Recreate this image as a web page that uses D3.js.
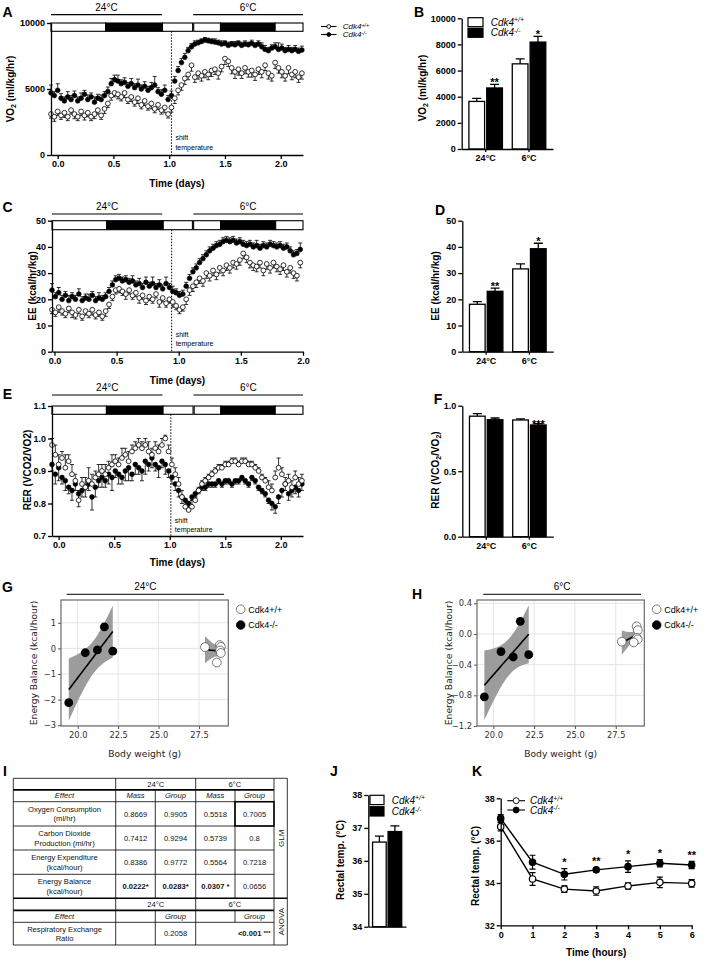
<!DOCTYPE html>
<html>
<head>
<meta charset="utf-8">
<title>Cdk4 metabolic phenotype</title>
<script src="https://cdn.jsdelivr.net/npm/d3@7/dist/d3.min.js"></script>
<style>
  body { margin: 0; background: #fff; }
  svg { display: block; font-family: "Liberation Sans", Arial, sans-serif; }
</style>
</head>
<body>
<svg id="fig" width="709" height="962"></svg>
<script>
// ---------------- data ----------------
const genotypes = ['wt', 'ko'];
const tempGroups = ['24°C', '6°C'];

// A: VO2 time course (ml/kg/hr), one value every 0.03 day
const vo2Start = -0.06, vo2Step = 0.03;
const vo2Wt = [3100, 2900, 3300, 3000, 3200, 2900, 3400, 3100, 2900, 3300,
  3000, 3200, 2900, 3100, 3400, 3000, 3500, 3900, 4500, 4700,
  4600, 4400, 4700, 4200, 4400, 4000, 4300, 3800, 4100, 3700,
  3900, 3500, 3800, 3400, 3600, 3100, 3600, 4300, 4900, 5300,
  5800, 6100, 6800, 5900, 6200, 6000, 6300, 6100, 6400, 6500,
  6200, 6700, 7300, 7100, 6600, 6300, 6500, 6200, 6600, 6300,
  6400, 6100, 6500, 6300, 6800, 6200, 6000, 7000, 6600, 6300,
  6000, 6600, 6100, 6300, 5900, 6200];
const vo2WtErr = [300, 350, 300, 300, 350, 300, 300, 350, 300, 300,
  350, 300, 300, 350, 300, 300, 350, 300, 350, 300,
  350, 300, 350, 300, 350, 300, 400, 300, 350, 300,
  400, 300, 350, 300, 400, 300, 350, 400, 350, 400,
  450, 400, 450, 400, 450, 400, 450, 400, 450, 400,
  450, 400, 450, 400, 450, 500, 450, 400, 450, 400,
  500, 450, 400, 450, 400, 450, 400, 450, 400, 450,
  400, 450, 400, 450, 400, 450];
const vo2Ko = [4700, 4500, 4900, 4300, 4100, 4400, 4200, 4500, 4100, 4300,
  4600, 4200, 4400, 4000, 4300, 4200, 4500, 4800, 5400, 5700,
  5600, 5400, 5500, 5200, 5400, 5100, 5300, 5000, 5200, 4900,
  5100, 5300, 4800, 4600, 4900, 4200, 4500, 5600, 6400, 7000,
  7400, 7900, 8200, 8400, 8500, 8600, 8700, 8650, 8600, 8550,
  8500, 8400, 8450, 8300, 8400, 8350, 8450, 8300, 8400, 8350,
  8450, 8300, 8400, 8200, 8000, 7900, 8100, 8200, 8000, 8100,
  7900, 8000, 7900, 8000, 7850, 7950];
const vo2KoErr = [600, 300, 500, 350, 300, 400, 300, 350, 300, 400,
  300, 350, 300, 400, 300, 350, 300, 350, 400, 350,
  450, 300, 350, 300, 400, 300, 450, 300, 350, 300,
  400, 650, 300, 350, 400, 300, 350, 350, 300, 300,
  300, 250, 250, 250, 200, 200, 200, 200, 200, 250,
  200, 250, 200, 250, 200, 250, 200, 250, 250, 200,
  250, 200, 250, 300, 300, 250, 250, 300, 500, 300,
  250, 300, 250, 300, 250, 300];

// C: energy expenditure time course (kcal/hr/kg), one value every 0.027 day
const eeStart = -0.02, eeStep = 0.027;
const eeWt = [16, 15, 17, 15.5, 14.5, 16.5, 15, 14, 16, 13.5,
  15.5, 14.5, 16, 14, 15, 13.5, 15.5, 18, 21, 23.5,
  24, 23, 22, 23.5, 21.5, 22.5, 20.5, 21.5, 19.5, 21,
  20, 22, 19, 20.5, 18.5, 20, 19, 17.5, 16, 17,
  20, 23.5, 25, 26.5, 28, 27, 30, 29, 31, 29.5,
  32, 31, 33, 32, 34, 33.5, 35, 37.5, 36, 34,
  33, 32.5, 34, 31, 33.5, 32, 34, 32.5, 31.5, 33,
  30.5, 32, 30, 29, 34];
const eeWtErr = [1.5, 1.5, 2, 1.5, 1.5, 1.5, 2, 1.5, 1.5, 1.5,
  1.5, 1.5, 2, 1.5, 1.5, 1.5, 2, 1.5, 1.5, 1.5,
  1.5, 1.5, 2, 1.5, 1.5, 1.5, 2, 1.5, 1.5, 1.5,
  1.5, 1.5, 2, 1.5, 1.5, 1.5, 2, 1.5, 1.5, 1.5,
  2, 2, 2, 2, 2, 2, 2, 2, 2, 2,
  2, 2, 2, 2, 2, 2, 2, 2, 2, 2,
  2, 2, 2, 2, 2, 2, 2, 2, 2, 2,
  2, 2, 2, 2, 2];
const eeKo = [23.5, 21, 22.5, 20, 21.5, 19.5, 21, 20, 22, 19.5,
  20.5, 20, 21.5, 19.5, 20.5, 20, 21, 23, 25.5, 27.5,
  28, 27, 27.5, 26.5, 27, 25.5, 26, 24.5, 26.5, 25,
  26, 24.5, 25.5, 24, 26, 24.5, 23, 22.5, 21.5, 22,
  25, 28, 30.5, 32, 34, 35.5, 37, 38.5, 39.5, 40.5,
  41, 42, 42.5, 42, 42.5, 41.5, 42, 41, 40.5, 41,
  40, 40.5, 39.5, 40.5, 40, 41, 40.5, 40, 40.5, 39.5,
  40, 38.5, 37, 37.5, 39];
const eeKoErr = [2.5, 1.5, 2, 1.5, 1.5, 2, 1.5, 1.5, 2, 1.5,
  1.5, 2, 1.5, 1.5, 2, 1.5, 1.5, 1.5, 1.5, 1.5,
  1.5, 1.5, 1.5, 1.5, 2, 1.5, 2, 1.5, 2, 1.5,
  2.5, 1.5, 2, 1.5, 2.5, 1.5, 2, 1.5, 1.5, 1.5,
  1.5, 1.5, 1.5, 1.5, 1.5, 1.5, 1.5, 1.5, 1.5, 1.5,
  1.5, 1.5, 1.5, 1.5, 1.5, 1.5, 1.5, 1.5, 1.5, 1.5,
  1.5, 2, 1.5, 1.5, 1.5, 1.5, 1.5, 1.5, 1.5, 1.5,
  1.5, 1.5, 1.5, 1.5, 2.5];

// E: RER time course, one value every 0.03 day
const rerStart = -0.06, rerStep = 0.03;
const rerWt = [0.98, 0.95, 0.92, 0.94, 0.91, 0.93, 0.89, 0.87, 0.81, 0.86,
  0.85, 0.87, 0.86, 0.88, 0.89, 0.90, 0.89, 0.91, 0.92, 0.93,
  0.92, 0.94, 0.95, 0.93, 0.96, 0.97, 0.98, 0.97, 0.98, 0.96,
  0.95, 0.97, 0.96, 0.98, 1.00, 0.96, 0.92, 0.89, 0.86, 0.82,
  0.79, 0.78, 0.79, 0.81, 0.84, 0.86, 0.87, 0.88, 0.89, 0.90,
  0.91, 0.91, 0.92, 0.92, 0.93, 0.93, 0.92, 0.93, 0.93, 0.92,
  0.92, 0.91, 0.90, 0.88, 0.87, 0.85, 0.84, 0.88, 0.91, 0.89,
  0.86, 0.87, 0.85, 0.88, 0.86, 0.87];
const rerWtErr = [0.02, 0.03, 0.03, 0.02, 0.04, 0.02, 0.03, 0.02, 0.03, 0.02,
  0.03, 0.04, 0.03, 0.02, 0.03, 0.02, 0.03, 0.02, 0.03, 0.02,
  0.02, 0.03, 0.02, 0.03, 0.02, 0.02, 0.02, 0.02, 0.02, 0.03,
  0.02, 0.02, 0.02, 0.02, 0.01, 0.02, 0.02, 0.02, 0.02, 0.02,
  0.02, 0.02, 0.02, 0.01, 0.01, 0.01, 0.01, 0.01, 0.01, 0.01,
  0.01, 0.01, 0.01, 0.01, 0.01, 0.01, 0.01, 0.01, 0.01, 0.01,
  0.01, 0.01, 0.01, 0.01, 0.01, 0.02, 0.02, 0.02, 0.03, 0.02,
  0.02, 0.02, 0.02, 0.02, 0.02, 0.02];
const rerKo = [0.92, 0.89, 0.91, 0.88, 0.87, 0.85, 0.84, 0.86, 0.83, 0.84,
  0.85, 0.86, 0.82, 0.85, 0.87, 0.88, 0.87, 0.89, 0.88, 0.90,
  0.89, 0.88, 0.90, 0.91, 0.89, 0.92, 0.91, 0.90, 0.93, 0.92,
  0.94, 0.92, 0.91, 0.93, 0.92, 0.90, 0.88, 0.86, 0.84, 0.82,
  0.81, 0.80, 0.82, 0.83, 0.84, 0.85, 0.85, 0.86, 0.86, 0.86,
  0.87, 0.86, 0.87, 0.87, 0.86, 0.87, 0.87, 0.88, 0.87, 0.86,
  0.88, 0.87, 0.85, 0.84, 0.83, 0.81, 0.80, 0.79, 0.82, 0.84,
  0.86, 0.83, 0.84, 0.85, 0.84, 0.86];
const rerKoErr = [0.02, 0.03, 0.04, 0.02, 0.03, 0.02, 0.03, 0.02, 0.04, 0.02,
  0.03, 0.02, 0.04, 0.03, 0.02, 0.03, 0.02, 0.03, 0.04, 0.02,
  0.03, 0.02, 0.03, 0.04, 0.02, 0.03, 0.02, 0.03, 0.04, 0.02,
  0.03, 0.02, 0.03, 0.02, 0.03, 0.02, 0.02, 0.02, 0.02, 0.02,
  0.02, 0.02, 0.01, 0.01, 0.01, 0.01, 0.01, 0.01, 0.01, 0.01,
  0.01, 0.01, 0.01, 0.01, 0.01, 0.01, 0.01, 0.01, 0.01, 0.01,
  0.01, 0.01, 0.01, 0.01, 0.01, 0.01, 0.02, 0.02, 0.02, 0.02,
  0.02, 0.02, 0.02, 0.02, 0.02, 0.02];

// light / dark cycle and temperature periods (days); third field 1 = dark
const lightDarkAE = [[-0.06, 0.43, 0], [0.43, 0.94, 1], [0.94, 1.21, 0], [1.22, 1.46, 0], [1.46, 1.95, 1], [1.95, 2.2, 0]];
const tempSpanAE = [[-0.06, 0.935], [1.215, 2.2]];
const lightDarkC = [[-0.02, 0.42, 0], [0.42, 0.875, 1], [0.875, 1.11, 0], [1.12, 1.337, 0], [1.337, 1.78, 1], [1.78, 2.0, 0]];
const tempSpanC = [[-0.02, 0.867], [1.117, 2.0]];

// B, D, F: averages per temperature
const vo2BarWt = [3640, 6515], vo2BarWtErr = [240, 385];
const vo2BarKo = [4670, 8180], vo2BarKoErr = [280, 435];
const vo2Stars = ['**', '*'];
const eeBarWt = [18.1, 31.6], eeBarWtErr = [1.0, 1.9];
const eeBarKo = [23.05, 39.3], eeBarKoErr = [1.25, 2.1];
const eeStars = ['**', '*'];
const rerBarWt = [0.92, 0.891], rerBarWtErr = [0.02, 0.009];
const rerBarKo = [0.893, 0.853], rerBarKoErr = [0.013, 0.01];
const rerStars = ['', '***'];

// G, H: energy balance vs body weight
const bwKo = [19.45, 20.47, 21.22, 21.65, 22.17];
const bwWt = [27.87, 28.78, 28.85, 28.8, 28.85, 28.6];
const ebKo24 = [-2.12, -0.17, -0.06, 0.84, -0.11];
const ebWt24 = [0.05, 0.13, 0.06, -0.08, -0.18, -0.55];
const ebKo6 = [-0.82, -0.23, -0.30, 0.165, -0.27];
const ebWt6 = [-0.10, 0.10, 0.05, -0.05, -0.07, -0.11];

// I: statistics table
const tblEffects = [['Oxygen Consumption', '(ml/hr)'], ['Carbon Dioxide', 'Production (ml/hr)'],
  ['Energy Expenditure', '(kcal/hour)'], ['Energy Balance', '(kcal/hour)']];
const tblPvals = [['0.8669', '0.9905', '0.5518', '0.7005'], ['0.7412', '0.9294', '0.5739', '0.8'],
  ['0.8386', '0.9772', '0.5564', '0.7218'], ['0.0222*', '0.0283*', '0.0307 *', '0.0656']];
const tblBold = [[0, 0, 0, 0], [0, 0, 0, 0], [0, 0, 0, 0], [1, 1, 1, 0]];
const rerGroupP = ['0.2058', '<0.001'];

// J: rectal temperature at baseline
const rectalWt = [36.57], rectalWtErr = [0.18];
const rectalKo = [36.89], rectalKoErr = [0.17];

// K: cold exposure rectal temperature
const coldHours = [0, 1, 2, 3, 4, 5, 6];
const coldWt = [36.66, 34.19, 33.71, 33.62, 33.86, 34.03, 33.98];
const coldWtErr = [0.2, 0.3, 0.15, 0.2, 0.15, 0.25, 0.18];
const coldKo = [37.05, 34.98, 34.41, 34.62, 34.77, 34.93, 34.85];
const coldKoErr = [0.18, 0.33, 0.27, 0.1, 0.27, 0.17, 0.17];
const coldStars = ['', '', '*', '**', '*', '*', '**'];

// ---------------- helpers ----------------
const svg = d3.select('#fig');
const SANS = '"Liberation Sans", Arial, sans-serif';
const DV = '"DejaVu Sans", Verdana, sans-serif';

function letter(t, x, y) {
  svg.append('text').attr('x', x).attr('y', y).attr('text-anchor', 'middle')
    .attr('font-size', 14).attr('font-weight', 'bold').text(t);
}

function styleAxis(g, size) {
  g.select('.domain').attr('stroke', '#000').attr('stroke-width', 1.3);
  g.selectAll('.tick line').attr('stroke', '#000').attr('stroke-width', 1.3);
  g.selectAll('.tick text').attr('font-family', SANS).attr('font-size', size || 9)
    .attr('font-weight', 'bold').attr('fill', '#000');
}

// rotated axis title; parts = [text, dy, fontSize]
function rotLabel(cx, cy, parts, opt) {
  const t = svg.append('text')
    .attr('transform', `translate(${cx + 3.5},${cy}) rotate(-90)`)
    .attr('text-anchor', 'middle')
    .attr('font-size', opt.size).attr('font-weight', opt.weight || 'bold')
    .attr('font-family', opt.family || SANS).attr('fill', opt.fill || '#000');
  parts.forEach(p => {
    const s = t.append('tspan').text(p[0]);
    if (p[1]) s.attr('dy', p[1]);
    if (p[2]) s.attr('font-size', p[2]);
  });
}

function genoText(x, y, k, size) {
  const t = svg.append('text').attr('x', x).attr('y', y).attr('font-size', size).attr('font-style', 'italic');
  t.append('tspan').text('Cdk4');
  t.append('tspan').text(k === 'wt' ? '+/+' : '-/-').attr('dy', -size * 0.35).attr('font-size', size * 0.68);
}

function lineLegend(x1, x2, ys, r, textX, size) {
  genotypes.forEach((k, i) => {
    svg.append('line').attr('x1', x1).attr('x2', x2).attr('y1', ys[i]).attr('y2', ys[i])
      .attr('stroke', '#000').attr('stroke-width', 1.1);
    svg.append('circle').attr('cx', (x1 + x2) / 2).attr('cy', ys[i]).attr('r', r)
      .attr('fill', k === 'ko' ? '#000' : '#fff').attr('stroke', '#000').attr('stroke-width', 0.9);
    genoText(textX, ys[i] + size * 0.36, k, size);
  });
}

function boxLegend(x, ys, w, h, textX, size) {
  genotypes.forEach((k, i) => {
    svg.append('rect').attr('x', x).attr('y', ys[i]).attr('width', w).attr('height', h)
      .attr('fill', k === 'ko' ? '#000' : '#fff').attr('stroke', '#000').attr('stroke-width', 1.2);
    genoText(textX, ys[i] + h - 1, k, size);
  });
}

// ---------------- time-course panels (A, C, E) ----------------
function timePanel(o) {
  const x = d3.scaleLinear().domain(o.xDomain).range(o.xRange);
  const y = d3.scaleLinear().domain(o.yDomain).range(o.yRange);
  const g = svg.append('g');
  const top = o.yRange[1];

  g.selectAll('line.temp').data(o.temps).join('line').attr('class', 'temp')
    .attr('x1', d => x(d[0])).attr('x2', d => x(d[1]))
    .attr('y1', o.tempY).attr('y2', o.tempY).attr('stroke', '#000').attr('stroke-width', 1.2);
  g.selectAll('text.temp').data(o.temps).join('text').attr('class', 'temp')
    .attr('x', d => x((d[0] + d[1]) / 2)).attr('y', o.tempY - 4.2)
    .attr('text-anchor', 'middle').attr('font-size', 10).text((d, i) => tempGroups[i]);

  g.selectAll('rect.ld').data(o.ld).join('rect').attr('class', 'ld')
    .attr('x', d => x(d[0])).attr('width', d => x(d[1]) - x(d[0]))
    .attr('y', top).attr('height', o.barH)
    .attr('fill', d => d[2] ? '#000' : '#fff').attr('stroke', '#000').attr('stroke-width', 1.1);

  g.append('line').attr('x1', x(o.shift)).attr('x2', x(o.shift))
    .attr('y1', top + o.barH).attr('y2', o.yRange[0])
    .attr('stroke', '#000').attr('stroke-width', 1).attr('stroke-dasharray', '1.5,1.5');
  g.append('text').attr('font-size', 7).attr('y', o.shiftY)
    .selectAll('tspan').data(['shift', 'temperature']).join('tspan')
    .attr('x', x(o.shift) + 4).attr('dy', (d, i) => i ? 9.5 : 0).text(d => d);

  const pts = (vals, errs) => vals.map((v, i) => ({ t: o.t0 + i * o.step, v, e: errs[i] ?? 0 }));
  const wt = pts(o.wt, o.wtErr), ko = pts(o.ko, o.koErr);
  const errBars = (data, dir) => g.append('g').selectAll('path').data(data).join('path')
    .attr('d', d => {
      const X = x(d.t), y0 = y(d.v), y1 = y(d.v + dir * d.e);
      return `M${X},${y0}V${y1}M${X - 2},${y1}H${X + 2}`;
    })
    .attr('stroke', '#000').attr('stroke-width', 0.8).attr('fill', 'none');
  errBars(wt, o.wtDir);
  errBars(ko, o.koDir);
  g.append('g').selectAll('circle').data(ko).join('circle')
    .attr('cx', d => x(d.t)).attr('cy', d => y(d.v)).attr('r', 2.4)
    .attr('fill', '#000').attr('stroke', '#000').attr('stroke-width', 0.6);
  g.append('g').selectAll('circle').data(wt).join('circle')
    .attr('cx', d => x(d.t)).attr('cy', d => y(d.v)).attr('r', 2.4)
    .attr('fill', '#fff').attr('stroke', '#000').attr('stroke-width', 0.8);

  const ax = g.append('g').attr('transform', `translate(0,${o.yRange[0]})`)
    .call(d3.axisBottom(x).tickValues([0, 0.5, 1, 1.5, 2]).tickFormat(d3.format('.1f'))
      .tickSize(4).tickSizeOuter(0).tickPadding(2));
  styleAxis(ax);
  const ay = g.append('g').attr('transform', `translate(${o.xRange[0]},0)`)
    .call(d3.axisLeft(y).tickValues(o.yTicks).tickFormat(o.yFmt)
      .tickSize(4).tickSizeOuter(0).tickPadding(2));
  styleAxis(ay);

  svg.append('text').attr('x', (o.xRange[0] + o.xRange[1]) / 2).attr('y', o.xTitleY)
    .attr('text-anchor', 'middle').attr('font-size', 10).attr('font-weight', 'bold').text('Time (days)');
  rotLabel(o.yLabelX, o.yLabelY, o.yLabel, { size: 10 });
}

timePanel({
  xDomain: [-0.06, 2.2], xRange: [51, 303], yDomain: [0, 10000], yRange: [155, 23],
  yTicks: [0, 5000, 10000], yFmt: d3.format('d'),
  ld: lightDarkAE, temps: tempSpanAE, barH: 8.3, tempY: 14.7, shift: 1.02, shiftY: 140,
  t0: vo2Start, step: vo2Step, wt: vo2Wt, wtErr: vo2WtErr, ko: vo2Ko, koErr: vo2KoErr, wtDir: -1, koDir: 1,
  xTitleY: 187, yLabelX: 10, yLabelY: 89, yLabel: [['VO'], ['2', 2.5, 7], [' (ml/kg/hr)', -2.5]]
});
timePanel({
  xDomain: [-0.02, 2.0], xRange: [52, 303], yDomain: [0, 50], yRange: [351.7, 220.7],
  yTicks: [0, 10, 20, 30, 40, 50], yFmt: d3.format('d'),
  ld: lightDarkC, temps: tempSpanC, barH: 9, tempY: 214, shift: 0.943, shiftY: 336.5,
  t0: eeStart, step: eeStep, wt: eeWt, wtErr: eeWtErr, ko: eeKo, koErr: eeKoErr, wtDir: -1, koDir: 1,
  xTitleY: 383.5, yLabelX: 32, yLabelY: 286, yLabel: [['EE (kcal/hr/kg)']]
});
timePanel({
  xDomain: [-0.06, 2.2], xRange: [52, 303], yDomain: [0.7, 1.1], yRange: [536, 406],
  yTicks: [0.7, 0.8, 0.9, 1.0, 1.1], yFmt: d3.format('.1f'),
  ld: lightDarkAE, temps: tempSpanAE, barH: 8.3, tempY: 395, shift: 1.01, shiftY: 522.5,
  t0: rerStart, step: rerStep, wt: rerWt, wtErr: rerWtErr, ko: rerKo, koErr: rerKoErr, wtDir: 1, koDir: -1,
  xTitleY: 566, yLabelX: 27, yLabelY: 470, yLabel: [['RER (VCO2/VO2)']]
});
lineLegend(321, 336.5, [26.5, 34.5], 1.9, 342.7, 8);

// ---------------- bar panels (B, D, F, J) ----------------
function barPanel(o) {
  const x0 = d3.scaleBand().domain(o.groups).range(o.xRange).paddingInner(0.227).paddingOuter(o.outer);
  const x1 = d3.scaleBand().domain(genotypes).range([0, x0.bandwidth()]).paddingInner(0.12);
  const y = d3.scaleLinear().domain(o.yDomain).range(o.yRange);
  const rows = [];
  o.groups.forEach((gr, i) => genotypes.forEach(k => rows.push({
    gr, k, v: o.vals[k][i], e: o.errs[k][i], star: k === 'ko' && o.stars ? o.stars[i] : ''
  })));
  const cx = d => x0(d.gr) + x1(d.k) + x1.bandwidth() / 2;
  const g = svg.append('g');
  g.selectAll('rect').data(rows).join('rect')
    .attr('x', d => x0(d.gr) + x1(d.k)).attr('width', x1.bandwidth())
    .attr('y', d => y(d.v)).attr('height', d => y(o.yDomain[0]) - y(d.v))
    .attr('fill', d => d.k === 'ko' ? '#000' : '#fff').attr('stroke', '#000').attr('stroke-width', 1.3);
  g.selectAll('path.err').data(rows).join('path').attr('class', 'err')
    .attr('d', d => `M${cx(d)},${y(d.v)}V${y(d.v + d.e)}M${cx(d) - 4.5},${y(d.v + d.e)}H${cx(d) + 4.5}`)
    .attr('stroke', '#000').attr('stroke-width', 1.3).attr('fill', 'none');
  g.selectAll('text.star').data(rows.filter(d => d.star)).join('text').attr('class', 'star')
    .attr('x', cx).attr('y', d => y(d.v + d.e) + o.starDy)
    .attr('text-anchor', 'middle').attr('font-size', 11).attr('font-weight', 'bold').text(d => d.star);

  const ax = g.append('g').attr('transform', `translate(0,${o.yRange[0]})`)
    .call(d3.axisBottom(x0).tickSize(o.showX ? 3 : 0).tickSizeOuter(0).tickPadding(3)
      .tickFormat(d => o.showX ? d : ''));
  styleAxis(ax);
  const ay = g.append('g').attr('transform', `translate(${o.xRange[0]},0)`)
    .call(d3.axisLeft(y).tickValues(o.yTicks).tickFormat(o.yFmt).tickSize(4).tickSizeOuter(0).tickPadding(2));
  styleAxis(ay);
  rotLabel(o.yLabelX, o.yLabelY, o.yLabel, { size: 10 });
}

barPanel({
  groups: tempGroups, outer: 0.166, xRange: [461.7, 553], yDomain: [0, 10000], yRange: [149, 18.3],
  yTicks: [0, 2000, 4000, 6000, 8000, 10000], yFmt: d3.format('d'),
  vals: { wt: vo2BarWt, ko: vo2BarKo }, errs: { wt: vo2BarWtErr, ko: vo2BarKoErr }, stars: vo2Stars,
  starDy: 1.5, showX: true, yLabelX: 422, yLabelY: 88, yLabel: [['VO'], ['2', 2.5, 7], [' (ml/kg/hr)', -2.5]]
});
boxLegend(468, [17.7, 28.3], 15, 9, 490.7, 10);
barPanel({
  groups: tempGroups, outer: 0.166, xRange: [462.3, 553.3], yDomain: [0, 50], yRange: [351.7, 220.7],
  yTicks: [0, 10, 20, 30, 40, 50], yFmt: d3.format('d'),
  vals: { wt: eeBarWt, ko: eeBarKo }, errs: { wt: eeBarWtErr, ko: eeBarKoErr }, stars: eeStars,
  starDy: 1.5, showX: true, yLabelX: 435, yLabelY: 286, yLabel: [['EE (kcal/hr/kg)']]
});
barPanel({
  groups: tempGroups, outer: 0.166, xRange: [462.3, 553.3], yDomain: [0, 1], yRange: [536.7, 405.7],
  yTicks: [0, 0.5, 1.0], yFmt: d3.format('.1f'),
  vals: { wt: rerBarWt, ko: rerBarKo }, errs: { wt: rerBarWtErr, ko: rerBarKoErr }, stars: rerStars,
  starDy: 4, showX: true, yLabelX: 435, yLabelY: 470,
  yLabel: [['RER (VCO'], ['2', 2.5, 7], ['/VO', -2.5], ['2', 2.5, 7], [')', -2.5]]
});
barPanel({
  groups: ['base'], outer: 0.1, xRange: [368.3, 406], yDomain: [34, 38], yRange: [926.7, 795],
  yTicks: [34, 35, 36, 37, 38], yFmt: d3.format('d'),
  vals: { wt: rectalWt, ko: rectalKo }, errs: { wt: rectalWtErr, ko: rectalKoErr }, stars: null,
  starDy: 0, showX: false, yLabelX: 340, yLabelY: 860, yLabel: [['Rectal temp. (°C)']]
});
boxLegend(370, [795.3, 806.7], 14, 9.3, 391.7, 10);

// ---------------- scatter panels (G, H) ----------------
function fitBand(xs, ys) {
  const n = xs.length, mx = d3.mean(xs), my = d3.mean(ys);
  const sxx = d3.sum(xs, v => (v - mx) ** 2);
  const sxy = d3.sum(xs.map((v, i) => (v - mx) * (ys[i] - my)));
  const b = sxy / sxx, a = my - b * mx;
  const s = Math.sqrt(d3.sum(xs.map((v, i) => (ys[i] - a - b * v) ** 2)) / (n - 2));
  const [lo, hi] = d3.extent(xs);
  return d3.range(0, 41).map(j => {
    const xv = lo + (hi - lo) * j / 40, f = a + b * xv;
    const se = s * Math.sqrt(1 / n + (xv - mx) ** 2 / sxx);
    return { x: xv, f, lo: f - 1.96 * se, hi: f + 1.96 * se };
  });
}

function scatterPanel(o) {
  const x = d3.scaleLinear().domain(o.xDomain).range(o.xRange);
  const y = d3.scaleLinear().domain(o.yDomain).range(o.yRange);
  const [L, R] = o.xRange, [B, T] = o.yRange;
  const g = svg.append('g').attr('font-family', DV);

  g.selectAll('line.gx').data(o.xTicks).join('line').attr('class', 'gx')
    .attr('x1', d => x(d)).attr('x2', d => x(d)).attr('y1', T).attr('y2', B)
    .attr('stroke', '#e4e4e4').attr('stroke-width', 1);
  g.selectAll('line.gy').data(o.yTicks).join('line').attr('class', 'gy')
    .attr('x1', L).attr('x2', R).attr('y1', d => y(d)).attr('y2', d => y(d))
    .attr('stroke', '#e4e4e4').attr('stroke-width', 1);

  svg.append('clipPath').attr('id', 'clip' + o.id).append('rect')
    .attr('x', L).attr('y', T).attr('width', R - L).attr('height', B - T);
  const inner = g.append('g').attr('clip-path', `url(#clip${o.id})`);
  [[bwKo, o.ko], [bwWt, o.wt]].forEach(([xs, ys]) => {
    const fit = fitBand(xs, ys);
    inner.append('path').datum(fit)
      .attr('d', d3.area().x(d => x(d.x)).y0(d => y(d.lo)).y1(d => y(d.hi)))
      .attr('fill', '#9c9c9c');
    inner.append('path').datum(fit)
      .attr('d', d3.line().x(d => x(d.x)).y(d => y(d.f)))
      .attr('fill', 'none').attr('stroke', '#000').attr('stroke-width', 1.6);
  });
  inner.selectAll('circle.ko').data(bwKo).join('circle').attr('class', 'ko')
    .attr('cx', d => x(d)).attr('cy', (d, i) => y(o.ko[i])).attr('r', 4.4).attr('fill', '#000');
  inner.selectAll('circle.wt').data(bwWt).join('circle').attr('class', 'wt')
    .attr('cx', d => x(d)).attr('cy', (d, i) => y(o.wt[i])).attr('r', 4.4)
    .attr('fill', '#fff').attr('stroke', '#555').attr('stroke-width', 0.8);

  g.append('rect').attr('x', L).attr('y', T).attr('width', R - L).attr('height', B - T)
    .attr('fill', 'none').attr('stroke', '#6a6a6a').attr('stroke-width', 1.2);

  const ax = g.append('g').attr('transform', `translate(0,${B})`)
    .call(d3.axisBottom(x).tickValues(o.xTicks).tickFormat(d3.format('.1f')).tickSize(3).tickPadding(3));
  const ay = g.append('g').attr('transform', `translate(${L},0)`)
    .call(d3.axisLeft(y).tickValues(o.yTicks).tickFormat(o.yFmt).tickSize(3).tickPadding(2));
  [ax, ay].forEach(a => {
    a.select('.domain').remove();
    a.selectAll('.tick line').attr('stroke', '#555');
    a.selectAll('.tick text').attr('font-family', DV).attr('font-size', 8.3).attr('fill', '#333');
  });

  svg.append('line').attr('x1', o.tempLine[0]).attr('x2', o.tempLine[1]).attr('y1', 594.3).attr('y2', 594.3)
    .attr('stroke', '#333').attr('stroke-width', 1.2);
  svg.append('text').attr('x', (o.tempLine[0] + o.tempLine[1]) / 2).attr('y', 590.3)
    .attr('text-anchor', 'middle').attr('font-size', 10).text(o.temp);

  svg.append('text').attr('x', (L + R) / 2).attr('y', 756.7).attr('text-anchor', 'middle')
    .attr('font-family', DV).attr('font-size', 9.2).attr('fill', '#222').text('Body weight (g)');
  rotLabel(o.yLabelX, 663, [['Energy Balance (kcal/hour)']], { size: 9.2, weight: 'normal', family: DV, fill: '#222' });

  genotypes.forEach((k, i) => {
    svg.append('circle').attr('cx', o.legX).attr('cy', 609.3 + i * 15.7).attr('r', 4.3)
      .attr('fill', k === 'ko' ? '#000' : '#fff').attr('stroke', k === 'ko' ? '#000' : '#555').attr('stroke-width', 0.8);
    svg.append('text').attr('x', o.legX + 7.6).attr('y', 612.6 + i * 15.7).attr('font-size', 9)
      .text(k === 'ko' ? 'Cdk4-/-' : 'Cdk4+/+');
  });
}

scatterPanel({
  id: 'G', xDomain: [18.97, 29.31], xRange: [61, 228.3], yDomain: [-3.03, 1.89], yRange: [726, 600],
  xTicks: [20, 22.5, 25, 27.5], yTicks: [-3, -2, -1, 0, 1], yFmt: d3.format('d'),
  ko: ebKo24, wt: ebWt24, tempLine: [66.7, 224], temp: '24°C', yLabelX: 33.3, legX: 240.7
});
scatterPanel({
  id: 'H', xDomain: [19.0, 29.25], xRange: [477, 644.3], yDomain: [-1.2, 0.443], yRange: [726, 600],
  xTicks: [20, 22.5, 25, 27.5], yTicks: [-1.2, -0.8, -0.4, 0, 0.4], yFmt: d3.format('.1f'),
  ko: ebKo6, wt: ebWt6, tempLine: [483.3, 641], temp: '6°C', yLabelX: 448.3, legX: 656.7
});

// ---------------- table (I) ----------------
(function drawTable() {
  const cxs = [13.3, 115.7, 155.3, 195.7, 235, 274, 287.3];
  const rys = [778.3, 789.8, 801.7, 826, 850, 874.3, 898.3, 910.3, 922.3, 945];
  const g = svg.append('g').attr('font-size', 7.6).attr('fill', '#111');
  const hl = (yy, x1, x2, w) => g.append('line').attr('x1', x1).attr('x2', x2).attr('y1', yy).attr('y2', yy)
    .attr('stroke', '#000').attr('stroke-width', w || 0.8);
  const vl = (xx, y1, y2, w) => g.append('line').attr('x1', xx).attr('x2', xx).attr('y1', y1).attr('y2', y2)
    .attr('stroke', '#000').attr('stroke-width', w || 0.8);
  hl(rys[0], cxs[0], cxs[6]);
  hl(rys[1], cxs[0], cxs[5], 1.8);
  [2, 3, 4, 5].forEach(i => hl(rys[i], cxs[0], cxs[5]));
  hl(rys[6], cxs[0], cxs[6], 1.4);
  hl(rys[7], cxs[0], cxs[5], 1.8);
  hl(rys[8], cxs[0], cxs[5]);
  hl(rys[9], cxs[0], cxs[6]);
  [0, 1, 3, 5, 6].forEach(i => vl(cxs[i], rys[0], rys[9]));
  vl(cxs[2], rys[1], rys[6]); vl(cxs[2], rys[7], rys[9]);
  vl(cxs[4], rys[1], rys[6]); vl(cxs[4], rys[7], rys[8]);
  g.append('rect').attr('x', cxs[4]).attr('y', rys[2]).attr('width', cxs[5] - cxs[4]).attr('height', rys[3] - rys[2])
    .attr('fill', 'none').attr('stroke', '#000').attr('stroke-width', 1.5);

  const mid = (a, b) => (a + b) / 2;
  const colC = [0, 1, 2, 3, 4].map(i => mid(cxs[i], cxs[i + 1]));
  const txt = (s, xx, yy, extra) => {
    const t = g.append('text').attr('x', xx).attr('y', yy).attr('text-anchor', 'middle').text(s);
    if (extra) extra(t);
    return t;
  };
  const ital = t => t.attr('font-style', 'italic');
  // upper block
  txt(tempGroups[0], mid(cxs[1], cxs[3]), mid(rys[0], rys[1]) + 2.7);
  txt(tempGroups[1], mid(cxs[3], cxs[5]), mid(rys[0], rys[1]) + 2.7);
  ['Effect', 'Mass', 'Group', 'Mass', 'Group'].forEach((s, i) => txt(s, colC[i], mid(rys[1], rys[2]) + 2.7, ital));
  tblEffects.forEach((lines, r) => {
    const cy = mid(rys[r + 2], rys[r + 3]);
    txt(lines[0], colC[0], cy - 2);
    txt(lines[1], colC[0], cy + 7.5);
    tblPvals[r].forEach((p, c) => txt(p, colC[c + 1], cy + 2.7, t => t.attr('font-weight', tblBold[r][c] ? 'bold' : 'normal')));
  });
  // lower block
  txt(tempGroups[0], mid(cxs[1], cxs[3]), mid(rys[6], rys[7]) + 2.7);
  txt(tempGroups[1], mid(cxs[3], cxs[5]), mid(rys[6], rys[7]) + 2.7);
  txt('Effect', colC[0], mid(rys[7], rys[8]) + 2.7, ital);
  txt('Group', colC[2], mid(rys[7], rys[8]) + 2.7, ital);
  txt('Group', colC[4], mid(rys[7], rys[8]) + 2.7, ital);
  const cyR = mid(rys[8], rys[9]);
  txt('Respiratory Exchange', colC[0], cyR - 2);
  txt('Ratio', colC[0], cyR + 7.5);
  txt(rerGroupP[0], colC[2], cyR + 2.7);
  const pt = g.append('text').attr('x', 270.5).attr('y', cyR + 2.7).attr('text-anchor', 'end').attr('font-weight', 'bold');
  pt.append('tspan').text(rerGroupP[1] + ' ');
  pt.append('tspan').text('***').attr('font-size', 6).attr('dy', -1.5);
  // side labels
  [['GLM', mid(rys[0], rys[6])], ['ANOVA', mid(rys[6], rys[9])]].forEach(([s, cy]) => {
    g.append('text').attr('transform', `translate(${mid(cxs[5], cxs[6]) + 3},${cy}) rotate(-90)`)
      .attr('text-anchor', 'middle').attr('font-size', 8).text(s);
  });
})();

// ---------------- cold exposure (K) ----------------
(function coldPanel() {
  const x = d3.scaleLinear().domain([0, 6]).range([500.7, 691.7]);
  const y = d3.scaleLinear().domain([32, 38]).range([925.3, 798.3]);
  const g = svg.append('g');
  const series = [
    { k: 'wt', v: coldWt, e: coldWtErr },
    { k: 'ko', v: coldKo, e: coldKoErr }
  ];
  const line = d3.line().x((d, i) => x(coldHours[i])).y(d => y(d));
  series.forEach(s => {
    g.append('path').datum(s.v).attr('d', line).attr('fill', 'none').attr('stroke', '#000').attr('stroke-width', 1.4);
    g.append('g').selectAll('path').data(s.v).join('path')
      .attr('d', (d, i) => {
        const X = x(coldHours[i]), a = y(d - s.e[i]), b = y(d + s.e[i]);
        return `M${X},${a}V${b}M${X - 3},${a}H${X + 3}M${X - 3},${b}H${X + 3}`;
      })
      .attr('stroke', '#000').attr('stroke-width', 1.2).attr('fill', 'none');
  });
  series.forEach(s => {
    g.append('g').selectAll('circle').data(s.v).join('circle')
      .attr('cx', (d, i) => x(coldHours[i])).attr('cy', d => y(d)).attr('r', 3.2)
      .attr('fill', s.k === 'ko' ? '#000' : '#fff').attr('stroke', '#000').attr('stroke-width', 1.2);
  });
  g.selectAll('text.star').data(coldStars).join('text').attr('class', 'star')
    .attr('x', (d, i) => x(coldHours[i])).attr('y', (d, i) => y(coldKo[i] + coldKoErr[i]) - 2.5)
    .attr('text-anchor', 'middle').attr('font-size', 11).attr('font-weight', 'bold').text(d => d);

  const ax = g.append('g').attr('transform', 'translate(0,925.3)')
    .call(d3.axisBottom(x).tickValues(coldHours).tickFormat(d3.format('d')).tickSize(4).tickSizeOuter(0).tickPadding(2));
  styleAxis(ax);
  const ay = g.append('g').attr('transform', 'translate(500.7,0)')
    .call(d3.axisLeft(y).tickValues([32, 34, 36, 38]).tickFormat(d3.format('d')).tickSize(4).tickSizeOuter(0).tickPadding(2));
  styleAxis(ay);
  svg.append('text').attr('x', 596.2).attr('y', 956).attr('text-anchor', 'middle')
    .attr('font-size', 10).attr('font-weight', 'bold').text('Time (hours)');
  rotLabel(475, 866, [['Rectal temp. (°C)']], { size: 10 });
  lineLegend(507.3, 525, [800.7, 810], 3, 530, 10);
})();

// ---------------- panel letters ----------------
[['A', 7.5, 17], ['B', 419, 17], ['C', 7.5, 212], ['D', 440, 215], ['E', 7.5, 399], ['F', 438, 404],
 ['G', 7.5, 592], ['H', 417, 599], ['I', 5, 776], ['J', 334, 776], ['K', 477, 776]]
  .forEach(([t, x, y]) => letter(t, x, y));
</script>
</body>
</html>
